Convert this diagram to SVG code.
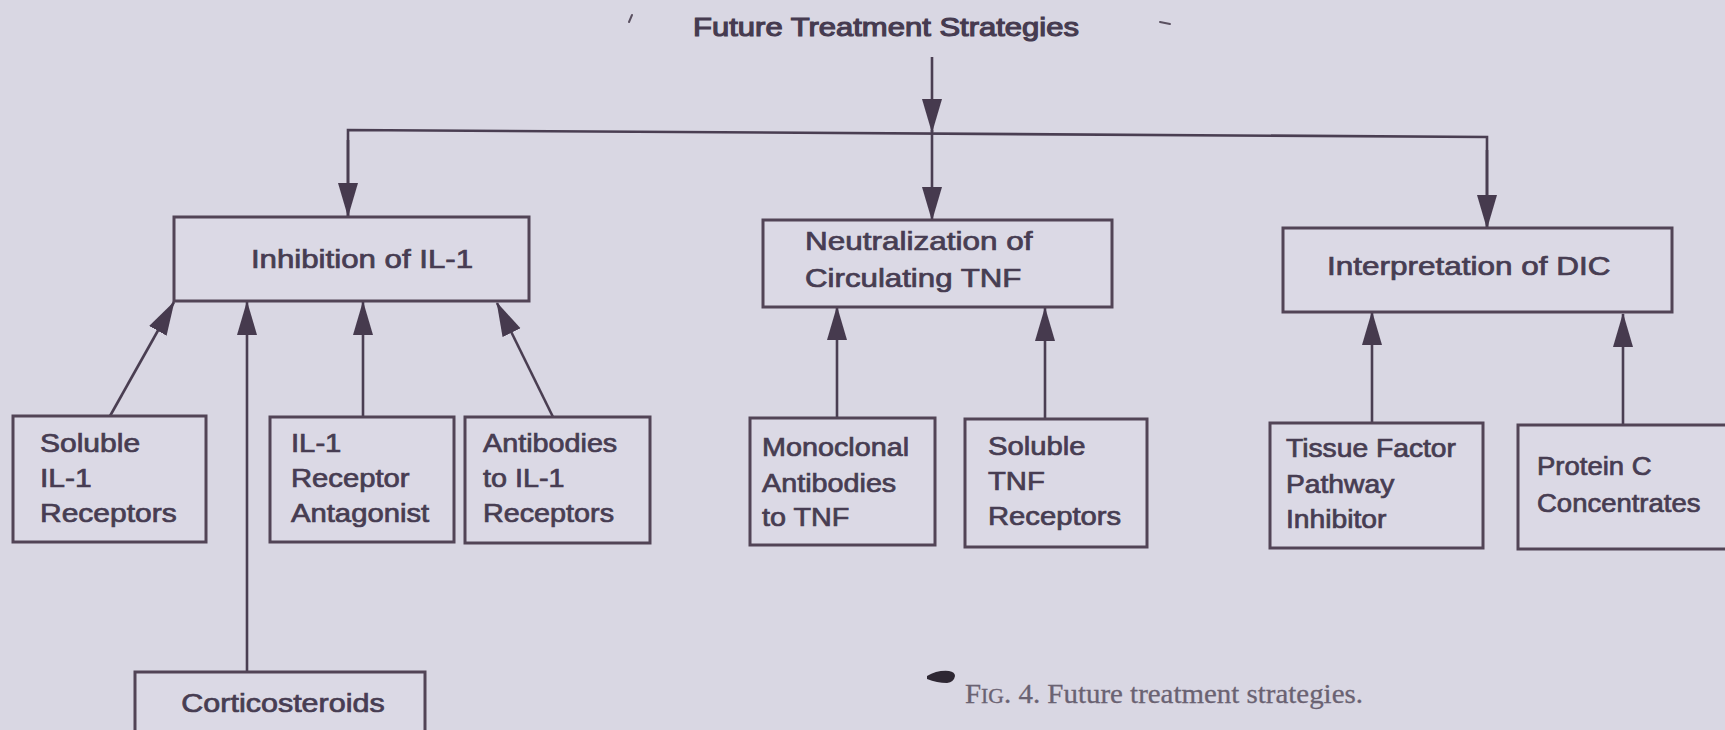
<svg xmlns="http://www.w3.org/2000/svg" width="1725" height="730" viewBox="0 0 1725 730">
<defs>
<marker id="ah" markerUnits="userSpaceOnUse" markerWidth="34" markerHeight="22" viewBox="0 0 34 22" refX="33" refY="11" orient="auto">
<path d="M0,1 L34,11 L0,21 z" fill="#463a4e"/>
</marker>
</defs>
<style>
.bg{fill:#d9d7e3}
.box{fill:#dbd9e5;stroke:#524456;stroke-width:3}
.ln{fill:none;stroke:#4a3e52;stroke-width:2.6}
.hd{font-family:"Liberation Sans",Arial,sans-serif;font-size:25px;fill:#473d52;stroke:#473d52;stroke-width:0.7}
.ttl{font-family:"Liberation Sans",Arial,sans-serif;font-size:25px;fill:#463b50;stroke:#463b50;stroke-width:1.1}
.tx{font-family:"Liberation Sans",Arial,sans-serif;font-size:25px;fill:#473d52;stroke:#473d52;stroke-width:0.7}
.cap{font-family:"Liberation Serif","Times New Roman",serif;font-size:28px;fill:#6a6272;stroke:#6a6272;stroke-width:0.3}
.mk{fill:none;stroke:#5a5060;stroke-width:2;stroke-linecap:round}
</style>
<rect class="bg" x="0" y="0" width="1725" height="730"/>
<g id="title"><text class="ttl" text-anchor="middle" transform="translate(886,36) scale(1.24,1)">Future Treatment Strategies</text></g>
<g id="marks">
<line class="mk" x1="629" y1="22" x2="632" y2="15"/>
<line class="mk" x1="1160" y1="22" x2="1170" y2="24"/>
</g>
<g id="connectors">
<line class="ln" x1="932" y1="57" x2="932" y2="132" marker-end="url(#ah)"/>
<polyline class="ln" points="348,216 348,130 1487,137 1487,228"/>
<line class="ln" x1="348" y1="140" x2="348" y2="216" marker-end="url(#ah)"/>
<line class="ln" x1="932" y1="130" x2="932" y2="220" marker-end="url(#ah)"/>
<line class="ln" x1="1487" y1="150" x2="1487" y2="228" marker-end="url(#ah)"/>
<line class="ln" x1="110" y1="416" x2="174" y2="302" marker-end="url(#ah)"/>
<line class="ln" x1="247" y1="672" x2="247" y2="302" marker-end="url(#ah)"/>
<line class="ln" x1="363" y1="417" x2="363" y2="302" marker-end="url(#ah)"/>
<line class="ln" x1="553" y1="417" x2="497" y2="303" marker-end="url(#ah)"/>
<line class="ln" x1="837" y1="418" x2="837" y2="307" marker-end="url(#ah)"/>
<line class="ln" x1="1045" y1="418" x2="1045" y2="308" marker-end="url(#ah)"/>
<line class="ln" x1="1372" y1="423" x2="1372" y2="312" marker-end="url(#ah)"/>
<line class="ln" x1="1623" y1="425" x2="1623" y2="314" marker-end="url(#ah)"/>
</g>
<g id="inhibition"><rect class="box" x="174" y="217" width="355" height="84"/><text class="hd" text-anchor="middle" transform="translate(362,268) scale(1.25,1)">Inhibition of IL-1</text></g>
<g id="neutralization"><rect class="box" x="763" y="220" width="349" height="87"/><text class="hd" transform="translate(805,250) scale(1.26,1)">Neutralization of</text><text class="hd" transform="translate(805,287) scale(1.25,1)">Circulating TNF</text></g>
<g id="interpretation"><rect class="box" x="1283" y="228" width="389" height="84"/><text class="hd" transform="translate(1327,275) scale(1.26,1)">Interpretation of DIC</text></g>
<g id="soluble-il1"><rect class="box" x="13" y="416" width="193" height="126"/><text class="tx" transform="translate(40,452) scale(1.2,1)">Soluble</text><text class="tx" transform="translate(40,487) scale(1.2,1)">IL-1</text><text class="tx" transform="translate(40,522) scale(1.2,1)">Receptors</text></g>
<g id="il1-ra"><rect class="box" x="270" y="417" width="184" height="125"/><text class="tx" transform="translate(291,452) scale(1.17,1)">IL-1</text><text class="tx" transform="translate(291,487) scale(1.17,1)">Receptor</text><text class="tx" transform="translate(291,522) scale(1.17,1)">Antagonist</text></g>
<g id="antibodies-il1"><rect class="box" x="465" y="417" width="185" height="126"/><text class="tx" transform="translate(483,452) scale(1.15,1)">Antibodies</text><text class="tx" transform="translate(483,487) scale(1.15,1)">to IL-1</text><text class="tx" transform="translate(483,522) scale(1.15,1)">Receptors</text></g>
<g id="monoclonal"><rect class="box" x="750" y="418" width="185" height="127"/><text class="tx" transform="translate(762,456) scale(1.15,1)">Monoclonal</text><text class="tx" transform="translate(762,492) scale(1.15,1)">Antibodies</text><text class="tx" transform="translate(762,526) scale(1.15,1)">to TNF</text></g>
<g id="soluble-tnf"><rect class="box" x="965" y="419" width="182" height="128"/><text class="tx" transform="translate(988,455) scale(1.17,1)">Soluble</text><text class="tx" transform="translate(988,490) scale(1.17,1)">TNF</text><text class="tx" transform="translate(988,525) scale(1.17,1)">Receptors</text></g>
<g id="tfpi"><rect class="box" x="1270" y="423" width="213" height="125"/><text class="tx" transform="translate(1286,457) scale(1.13,1)">Tissue Factor</text><text class="tx" transform="translate(1286,493) scale(1.13,1)">Pathway</text><text class="tx" transform="translate(1286,528) scale(1.13,1)">Inhibitor</text></g>
<g id="protein-c"><rect class="box" x="1518" y="425" width="215" height="124"/><text class="tx" transform="translate(1537,475) scale(1.1,1)">Protein C</text><text class="tx" transform="translate(1537,512) scale(1.1,1)">Concentrates</text></g>
<g id="corticosteroids"><rect class="box" x="135" y="672" width="290" height="70"/><text class="tx" text-anchor="middle" transform="translate(283,712) scale(1.22,1)">Corticosteroids</text></g>
<g id="caption">
<path d="M927,676 q10,-6 22,-5 q6,1 6,5 q-1,6 -8,7 q-10,0 -20,-4 z" fill="#2e2733"/>
<text class="cap" x="965" y="703" textLength="398" lengthAdjust="spacingAndGlyphs">F<tspan font-size="21">IG</tspan>. 4. Future treatment strategies.</text>
</g>
</svg>
